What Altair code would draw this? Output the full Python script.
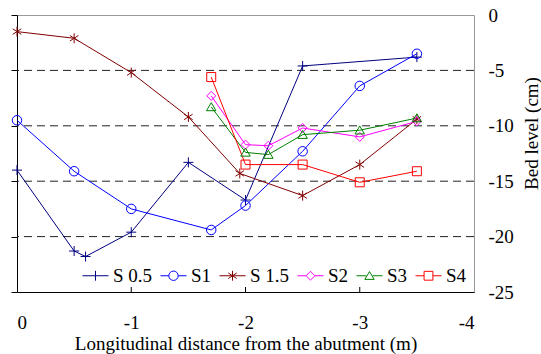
import altair as alt
import pandas as pd

# Bed level profiles (cm) along the longitudinal distance from the abutment (m)
SERIES = ["S 0.5", "S1", "S 1.5", "S2", "S3", "S4"]

S05_X = [0, -0.5, -0.6, -1.0, -1.5, -2.0, -2.5, -3.5]
S05_Y = [-14.0, -21.3, -21.8, -19.6, -13.3, -16.7, -4.6, -3.8]

S1_X = [0, -0.5, -1.0, -1.7, -2.0, -2.5, -3.0, -3.5]
S1_Y = [-9.5, -14.1, -17.5, -19.4, -17.2, -12.3, -6.4, -3.5]

S15_X = [0, -0.5, -1.0, -1.5, -1.95, -2.5, -3.0, -3.5]
S15_Y = [-1.5, -2.1, -5.2, -9.2, -14.3, -16.3, -13.5, -9.4]

S2_X = [-1.7, -2.0, -2.2, -2.5, -3.0, -3.5]
S2_Y = [-7.3, -11.7, -11.8, -10.2, -11.0, -9.6]

S3_X = [-1.7, -2.0, -2.2, -2.5, -3.0, -3.5]
S3_Y = [-8.3, -12.4, -12.6, -10.8, -10.4, -9.3]

S4_X = [-1.7, -2.0, -2.5, -3.0, -3.5]
S4_Y = [-5.6, -13.5, -13.5, -15.1, -14.1]

X_TICKS = [0, -1, -2, -3, -4]
X_INNER_TICKS = [-1, -2, -3]
Y_TICKS = [0, -5, -10, -15, -20, -25]
GRID_LEVELS = [-5, -10, -15, -20]

COLORS = ["#000080", "#0000ff", "#800000", "#ff00ff", "#008000", "#ff0000"]
FONT = "'Liberation Serif', 'Times New Roman', Times, serif"

# marker outlines in unit coordinates
MARKERS = {
    "S 0.5": "M-1,0H1M0,-1V1",
    "S1": "M0.95,0A0.95,0.95,0,1,1,-0.95,0A0.95,0.95,0,1,1,0.95,0Z",
    "S 1.5": "M0,-1V1M-0.85,-0.55L0.85,0.55M-0.85,0.55L0.85,-0.55",
    "S2": "M0,-0.9L0.9,0L0,0.9L-0.9,0Z",
    "S3": "M0,-0.85L0.95,0.75L-0.95,0.75Z",
    "S4": "M-0.9,-0.9H0.9V0.9H-0.9Z",
}
# legend symbols: a short line with the marker in its middle
LEGEND_SYMBOLS = [
    "M-1,0H1M0,-0.38V0.38",
    "M-1,0H-0.36M0.36,0H1M0.36,0A0.36,0.36,0,1,1,-0.36,0A0.36,0.36,0,1,1,0.36,0Z",
    "M-1,0H1M0,-0.38V0.38M-0.32,-0.21L0.32,0.21M-0.32,0.21L0.32,-0.21",
    "M-1,0H-0.34M0.34,0H1M0,-0.34L0.34,0L0,0.34L-0.34,0Z",
    "M-1,0H-0.24M0.24,0H1M0,-0.32L0.36,0.28L-0.36,0.28Z",
    "M-1,0H-0.34M0.34,0H1M-0.34,-0.34H0.34V0.34H-0.34Z",
]

rows = []
for name, xs, ys in zip(
    SERIES,
    [S05_X, S1_X, S15_X, S2_X, S3_X, S4_X],
    [S05_Y, S1_Y, S15_Y, S2_Y, S3_Y, S4_Y],
):
    for i, (x, y) in enumerate(zip(xs, ys)):
        rows.append({"series": name, "idx": i, "dist": x, "level": y})
df = pd.DataFrame(rows)
df["marker"] = df["series"].map(MARKERS)

x_scale = alt.Scale(domain=[0, -4], nice=False, zero=False)
y_scale = alt.Scale(domain=[-25, 0], nice=False, zero=False)
color_scale = alt.Scale(domain=SERIES, range=COLORS)

x_axis = alt.Axis(
    orient="bottom",
    values=X_TICKS,
    labelExpr="'' + datum.value",
    grid=False,
    ticks=False,
    tickSize=0,
    domainColor="black",
    labelPadding=36,
    labelBaseline="alphabetic",
    labelFont=FONT,
    labelFontSize=19,
    labelColor="black",
    title="Longitudinal distance from the abutment (m)",
    titleFont=FONT,
    titleFontSize=19,
    titleFontWeight="normal",
    titleColor="black",
    titleBaseline="alphabetic",
    titleY=57,
)

legend = alt.Legend(
    title=None,
    orient="none",
    legendX=65,
    legendY=247,
    direction="horizontal",
    columns=6,
    columnPadding=5,
    labelOffset=4,
    labelFont=FONT,
    labelFontSize=19,
    labelColor="black",
    symbolSize=676,
    symbolStrokeWidth=1,
    symbolOpacity=1,
    padding=0,
)

color = alt.Color("series:N", scale=color_scale, legend=legend)

legend_layer = (
    alt.Chart(df)
    .mark_point(filled=False, size=676, opacity=1, strokeWidth=1)
    .encode(
        color=color,
        shape=alt.Shape("series:N", scale=alt.Scale(domain=SERIES, range=LEGEND_SYMBOLS), legend=legend),
    )
    .transform_filter("false")
)

grid = (
    alt.Chart(pd.DataFrame({"level": GRID_LEVELS}))
    .mark_rule(color="#222222", strokeWidth=1, strokeDash=[8, 5])
    .encode(
        y=alt.Y(
            "level:Q",
            scale=y_scale,
            axis=alt.Axis(
                orient="left",
                values=Y_TICKS,
                labels=False,
                grid=False,
                domainColor="black",
                tickColor="black",
                tickSize=6,
                title=None,
            ),
        )
    )
)

lines = (
    alt.Chart(df)
    .mark_line(strokeWidth=1)
    .encode(
        x=alt.X("dist:Q", scale=x_scale, axis=x_axis),
        y=alt.Y(
            "level:Q",
            scale=y_scale,
            axis=alt.Axis(
                orient="right",
                values=Y_TICKS,
                labelExpr="'' + datum.value",
                grid=False,
                ticks=False,
                tickSize=0,
                domain=False,
                labelPadding=14,
                labelAlign="left",
                labelBaseline="middle",
                labelFont=FONT,
                labelFontSize=19,
                labelColor="black",
                title="Bed level (cm)",
                titleFont=FONT,
                titleFontSize=19,
                titleFontWeight="normal",
                titleColor="black",
                titleAngle=270,
                titleAlign="center",
                titleBaseline="alphabetic",
                titleX=63,
                titleY=118,
            ),
        ),
        color=color,
        detail="series:N",
        order="idx:Q",
    )
)

points = (
    alt.Chart(df)
    .mark_point(filled=False, size=100, opacity=1, strokeWidth=1)
    .encode(
        x=alt.X("dist:Q", scale=x_scale, axis=x_axis),
        y=alt.Y("level:Q", scale=y_scale, axis=None),
        color=color,
        shape=alt.Shape("marker:N", scale=None),
    )
)

inner_ticks = (
    alt.Chart(pd.DataFrame({"t": X_INNER_TICKS}))
    .mark_rule(color="black", strokeWidth=1)
    .encode(
        x=alt.X("t:Q", scale=x_scale, axis=x_axis),
        y=alt.Y(datum=-25, scale=y_scale, axis=None),
        y2=alt.datum(-24.55),
    )
)

chart = (
    alt.layer(legend_layer, grid, lines, points, inner_ticks)
    .resolve_axis(y="independent")
    .properties(
        width=457,
        height=277,
        autosize=alt.AutoSizeParams(type="none"),
        padding={"left": 17, "top": 15, "right": 67, "bottom": 62},
        background="white",
    )
    .configure_view(stroke="#999999", strokeWidth=1)
)

chart.save("out.html", embed_options={"renderer": "svg", "actions": False})
